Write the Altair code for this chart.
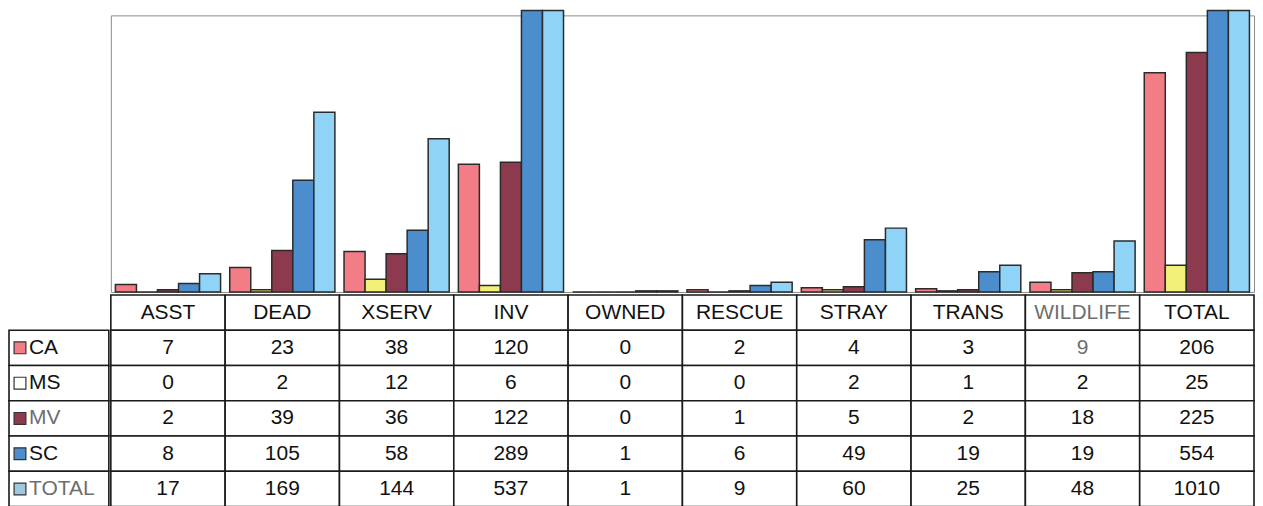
import altair as alt
import pandas as pd

# ---- data ----
categories = ["ASST", "DEAD", "XSERV", "INV", "OWNED", "RESCUE", "STRAY", "TRANS", "WILDLIFE", "TOTAL"]
series = ["CA", "MS", "MV", "SC", "TOTAL"]
ca = [7, 23, 38, 120, 0, 2, 4, 3, 9, 206]
ms = [0, 2, 12, 6, 0, 0, 2, 1, 2, 25]
mv = [2, 39, 36, 122, 0, 1, 5, 2, 18, 225]
sc = [8, 105, 58, 289, 1, 6, 49, 19, 19, 554]
total = [17, 169, 144, 537, 1, 9, 60, 25, 48, 1010]
header_row = "hdr"

# ---- styles ----
bar_colors = ["#F27D86", "#F3F07A", "#8E3A4E", "#4C8DCD", "#8FD3F6"]
legend_colors = ["#F27D86", "#FFFFFF", "#8E3A4E", "#4C8DCD", "#9FC9E0"]
FONT = "Liberation Sans"
FS = 21
Y_MAX = 260      # top of plot frame
CAP = 264.5      # bars run past the frame and are cut here
W = 1145
LW = 100
H_PLOT = 277
H_TAB = 212

series_values = [ca, ms, mv, sc, total]

bar_rows = []
for s, vals in zip(series, series_values):
    for c, v in zip(categories, vals):
        bar_rows.append({"category": c, "series": s, "value": v})
bdf = pd.DataFrame(bar_rows)

trows = [header_row] + series
cell_rows = []
for i, c in enumerate(categories):
    cell_rows.append({"category": c, "row": header_row, "label": c})
    for s, vals in zip(series, series_values):
        cell_rows.append({"category": c, "row": s, "label": str(vals[i])})
tdf = pd.DataFrame(cell_rows)

# ---- bars ----
bars = alt.Chart(bdf).transform_calculate(
    shown=f"min(datum.value, {CAP})"
).mark_bar(stroke="#2b2b2b", strokeWidth=1.5).encode(
    x=alt.X("category:N", sort=categories, axis=None,
            scale=alt.Scale(domain=categories, paddingInner=0.08, paddingOuter=0.04)),
    xOffset=alt.XOffset("series:N", sort=series,
                        scale=alt.Scale(domain=series, paddingInner=0, paddingOuter=0)),
    y=alt.Y("shown:Q", axis=None, scale=alt.Scale(domain=[0, Y_MAX], nice=False)),
    color=alt.Color("series:N", scale=alt.Scale(domain=series, range=bar_colors), legend=None),
).properties(width=W, height=H_PLOT,
             view=alt.ViewBackground(stroke="#8c8c8c", strokeWidth=1))

# ---- data table ----
tbase = alt.Chart(tdf).encode(
    x=alt.X("category:N", sort=categories, axis=None,
            scale=alt.Scale(domain=categories, paddingInner=0, paddingOuter=0)),
    y=alt.Y("row:N", axis=None,
            scale=alt.Scale(domain=trows, paddingInner=0, paddingOuter=0)),
)
tcells = tbase.mark_rect(fill="white", stroke="#1a1a1a", strokeWidth=1.6)
ttext = tbase.mark_text(font=FONT, fontSize=FS, align="center", baseline="middle").encode(
    text="label:N",
    color=alt.condition(
        "datum.label == 'WILDLIFE' || (datum.category == 'WILDLIFE' && datum.row == 'CA')",
        alt.value("#6e6e6e"), alt.value("#111111")),
)
table = (tcells + ttext).properties(width=W, height=H_TAB)

# ---- row labels with legend keys ----
lbase = alt.Chart(pd.DataFrame({"row": series})).encode(
    y=alt.Y("row:N", axis=None,
            scale=alt.Scale(domain=trows, paddingInner=0, paddingOuter=0)),
)
lcells = lbase.mark_rect(fill="white", stroke="#1a1a1a", strokeWidth=1.6).encode(
    x=alt.value(0), x2=alt.value(LW))
lkeys = lbase.mark_square(size=140, stroke="#333333", strokeWidth=1.2, opacity=1).encode(
    x=alt.value(11),
    fill=alt.Fill("row:N", scale=alt.Scale(domain=series, range=legend_colors), legend=None),
)
ltext = lbase.mark_text(font=FONT, fontSize=FS, align="left", baseline="middle").encode(
    x=alt.value(20),
    text="row:N",
    color=alt.condition("datum.row == 'MV' || datum.row == 'TOTAL'",
                        alt.value("#6e6e6e"), alt.value("#111111")),
)
labels = (lcells + lkeys + ltext).properties(width=LW, height=H_TAB)

spacer = alt.Chart(pd.DataFrame({"row": [""]})).mark_text(text="").encode(
    x=alt.value(0)).properties(width=LW, height=H_PLOT)

chart = alt.concat(spacer, bars, labels, table, columns=2, spacing=0).resolve_scale(
    color="independent", fill="independent"
).properties(
    padding={"left": 0, "top": 0, "right": 0, "bottom": 0}
).configure_view(strokeWidth=0)

chart.save("out.html", embed_options={"renderer": "svg", "actions": False})
